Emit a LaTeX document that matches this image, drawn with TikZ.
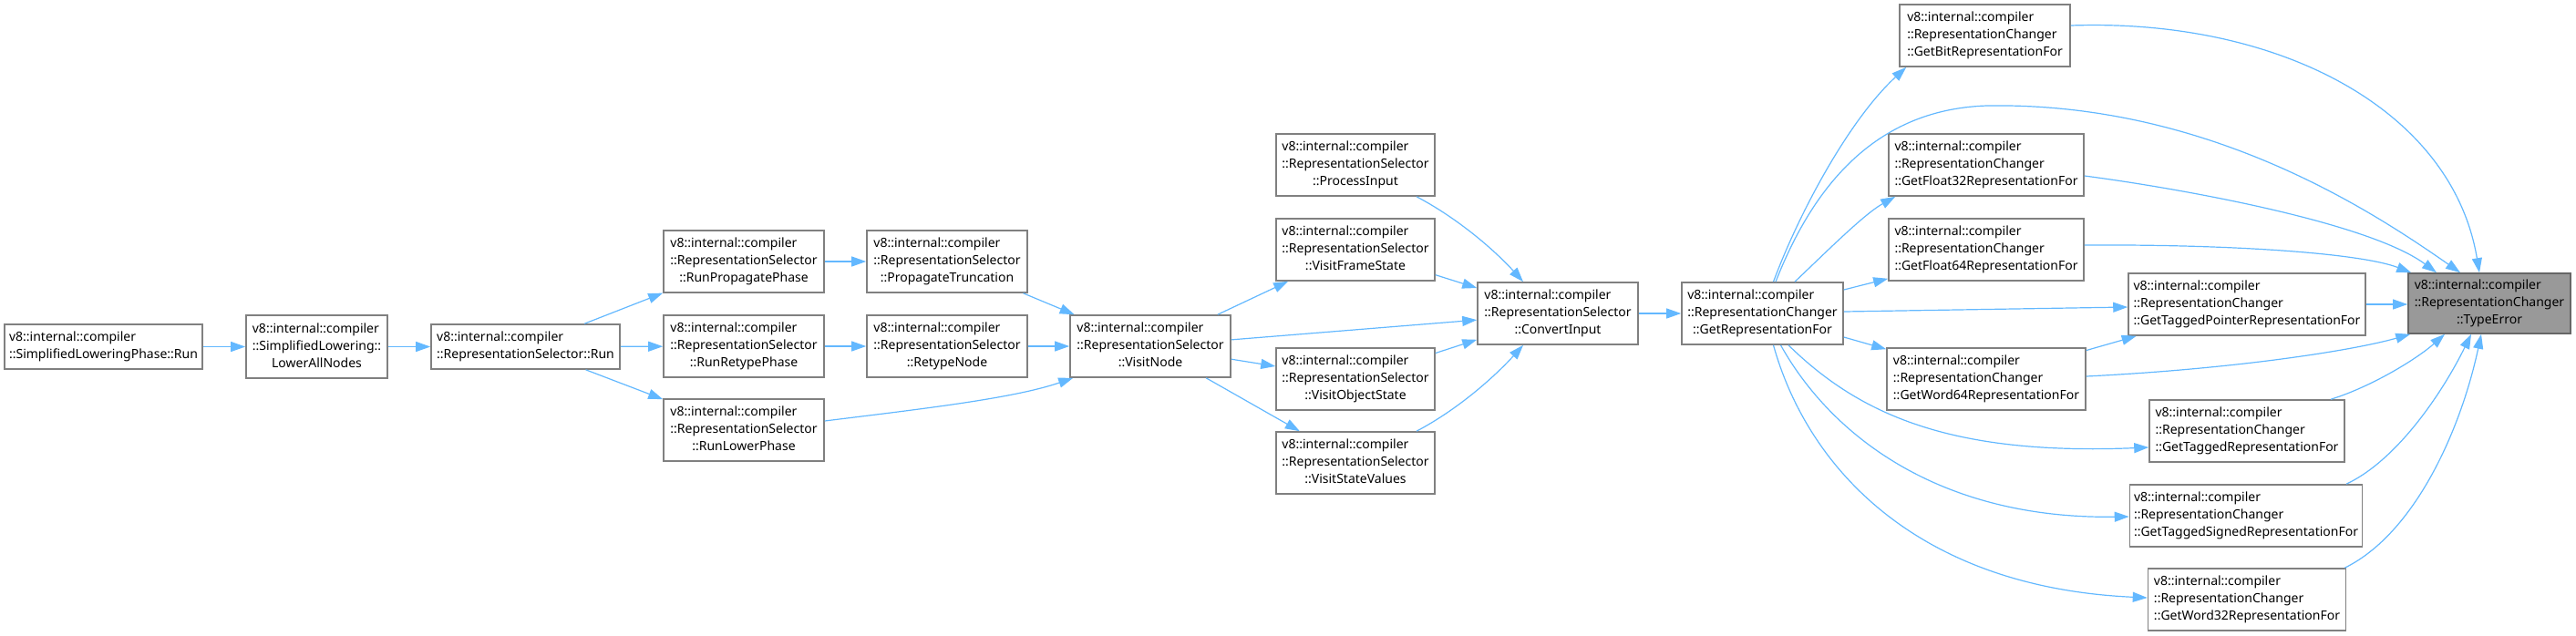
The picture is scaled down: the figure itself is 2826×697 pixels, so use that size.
\documentclass[tikz,border=0pt]{standalone}
\usepackage{fontspec}
\setmainfont{Noto Sans}
\usetikzlibrary{arrows.meta,calc}
\definecolor{edgeblue}{HTML}{63B8FF}
\definecolor{boxborder}{HTML}{808080}
\definecolor{curborder}{HTML}{666666}
\definecolor{curfill}{HTML}{999999}
\newcommand\lblthree[3]{\begin{tabular}{@{}l@{}}#1\\#2\\\multicolumn{1}{@{}c@{}}{#3}\end{tabular}}
\newcommand\lbltwo[2]{\begin{tabular}{@{}l@{}}#1\\\multicolumn{1}{@{}c@{}}{#2}\end{tabular}}
\newcommand\RS[1]{\lblthree{v8::internal::compiler}{::RepresentationSelector}{#1}}
\newcommand\RC[1]{\lblthree{v8::internal::compiler}{::RepresentationChanger}{#1}}
\begin{document}
\begin{tikzpicture}[x=1pt,y=-1pt,
  fn/.style={draw=boxborder,fill=white,line width=1.6pt,rectangle,inner sep=0pt,
    font=\fontsize{14}{19}\selectfont,minimum height=68pt},
  cur/.style={fn,draw=curborder,fill=curfill},
  w/.style={minimum width=#1},
  call/.style={draw=edgeblue,line width=1.2pt,-{Triangle[length=16pt,width=11pt]}}]
\useasboundingbox (0,0) rectangle (2826,697);

% nodes
\node[fn,w=217pt,minimum height=49pt] (slp) at (113.5,380.5) {\lbltwo{v8::internal::compiler}{::SimplifiedLoweringPhase::Run}};
\node[fn,w=155pt,minimum height=69pt] (lan) at (347.5,380.5) {\lblthree{v8::internal::compiler}{::SimplifiedLowering::}{LowerAllNodes}};
\node[fn,w=207pt,minimum height=49pt] (rsrun) at (576.5,380.5) {\lbltwo{v8::internal::compiler}{::RepresentationSelector::Run}};
\node[fn,w=176pt] (rpp) at (816,287) {\RS{::RunPropagatePhase}};
\node[fn,w=176pt] (rrp) at (816,380) {\RS{::RunRetypePhase}};
\node[fn,w=176pt] (rlp) at (816,472) {\RS{::RunLowerPhase}};
\node[fn,w=176pt] (pt) at (1039,287) {\RS{::PropagateTruncation}};
\node[fn,w=176pt] (rn) at (1039,380) {\RS{::RetypeNode}};
\node[fn,w=176pt] (vn) at (1262,380) {\RS{::VisitNode}};
\node[fn,w=174pt] (pi) at (1487,181) {\RS{::ProcessInput}};
\node[fn,w=174pt] (vfs) at (1487,274) {\RS{::VisitFrameState}};
\node[fn,w=174pt] (vos) at (1487,416) {\RS{::VisitObjectState}};
\node[fn,w=174pt] (vsv) at (1487,508) {\RS{::VisitStateValues}};
\node[fn,w=176pt] (ci) at (1709,344) {\RS{::ConvertInput}};
\node[fn,w=177pt] (grf) at (1933.5,344) {\RC{::GetRepresentationFor}};
\node[fn,w=187pt] (gbit) at (2177.5,39) {\RC{::GetBitRepresentationFor}};
\node[fn,w=214pt] (f32) at (2179,181) {\RC{::GetFloat32RepresentationFor}};
\node[fn,w=214pt] (f64) at (2179,274) {\RC{::GetFloat64RepresentationFor}};
\node[fn,w=218pt] (w64) at (2179,416) {\RC{::GetWord64RepresentationFor}};
\node[fn,w=260pt] (tp) at (2465,334) {\RC{::GetTaggedPointerRepresentationFor}};
\node[fn,w=214pt] (gt) at (2465,473) {\RC{::GetTaggedRepresentationFor}};
\node[fn,w=255pt] (ts) at (2464,566) {\RC{::GetTaggedSignedRepresentationFor}};
\node[fn,w=217pt] (w32) at (2465,658) {\RC{::GetWord32RepresentationFor}};
\node[cur,w=178pt,minimum height=66pt] (te) at (2731,333) {\RC{::TypeError}};

% left chain
\draw[call] (slp) -- (lan);
\draw[call] (lan) -- (rsrun);
\draw[call] (rsrun) -- (rpp);
\draw[call] (rsrun) -- (rrp);
\draw[call] (rsrun) -- (rlp);
\draw[call] (rpp) -- (pt);
\draw[call] (rrp) -- (rn);
\draw[call] (pt) -- (vn);
\draw[call] (rn) -- (vn);
\draw[call] ($(rlp.east)+(0,-10)$) .. controls (1000,450) and (1110,438) .. ($(vn.south west)+(4,0)$);
\draw[call] (vn) -- (vfs);
\draw[call] (vn) -- (ci);
\draw[call] (vn) -- (vos);
\draw[call] (vn) -- (vsv);
\draw[call] ($(pi.south)+(67,0)$) .. controls (1600,240) and (1640,275) .. ($(ci.north)+(-38,0)$);
\draw[call] (vfs) -- (ci);
\draw[call] (vos) -- (ci);
\draw[call] ($(vsv.north)+(67,0)$) .. controls (1600,449) and (1640,413) .. ($(ci.south)+(-38,0)$);
\draw[call] (ci) -- (grf);

% from GetRepresentationFor
\draw[call] ($(grf.north)+(12,0)$) .. controls (1975,230) and (2030,130) .. ($(gbit.south west)+(8,0)$);
\draw[call] ($(grf.north)+(14.5,0)$) .. controls (1985,215) and (2050,120) .. (2180,116)
   .. controls (2420,112) and (2600,230) .. ($(te.north)+(-32,0)$);
\draw[call] ($(grf.north)+(35.5,0)$) .. controls (2005,275) and (2045,235) .. ($(f32.south west)+(8,0)$);
\draw[call] ($(grf.east)+(0,-26)$) -- ($(f64.south west)+(0,-3)$);
\draw[call] ($(grf.east)+(0,-2)$) -- ($(tp.west)+(0,3)$);
\draw[call] ($(grf.east)+(0,26)$) -- ($(w64.north west)+(0,2)$);
\draw[call] ($(grf.south)+(28.5,0)$) .. controls (2040,455) and (2140,500) .. ($(gt.west)+(0,18)$);
\draw[call] ($(grf.south)+(20,0)$) .. controls (2010,480) and (2130,570) .. ($(ts.west)+(0,1)$);
\draw[call] ($(grf.south)+(12,0)$) .. controls (1985,520) and (2110,645) .. ($(w32.west)+(0,-2)$);

% into TypeError
\draw[call] ($(gbit.east)+(0,-11)$) .. controls (2500,20) and (2690,120) .. ($(te.north)+(-11,0)$);
\draw[call] ($(f32.east)+(0,12)$) .. controls (2400,208) and (2600,245) .. ($(te.north)+(-58,0)$);
\draw[call] ($(f64.east)+(0,-5)$) .. controls (2450,268) and (2590,278) .. ($(te.north west)+(4,0)$);
\draw[call] (tp.east) -- (tp.east -| te.west);
\draw[call] (w64) -- (tp);
\draw[call] ($(w64.east)+(0,-3)$) .. controls (2450,405) and (2580,385) .. ($(te.south west)+(3,0)$);
\draw[call] ($(gt.north)+(92,0)$) .. controls (2600,425) and (2650,395) .. ($(te.south)+(-49,0)$);
\draw[call] ($(ts.north)+(110,0)$) .. controls (2630,505) and (2680,430) .. ($(te.south)+(-20,0)$);
\draw[call] ($(w32.north east)+(-2,0)$) .. controls (2650,585) and (2700,470) .. ($(te.south)+(-9,0)$);
\end{tikzpicture}
\end{document}
